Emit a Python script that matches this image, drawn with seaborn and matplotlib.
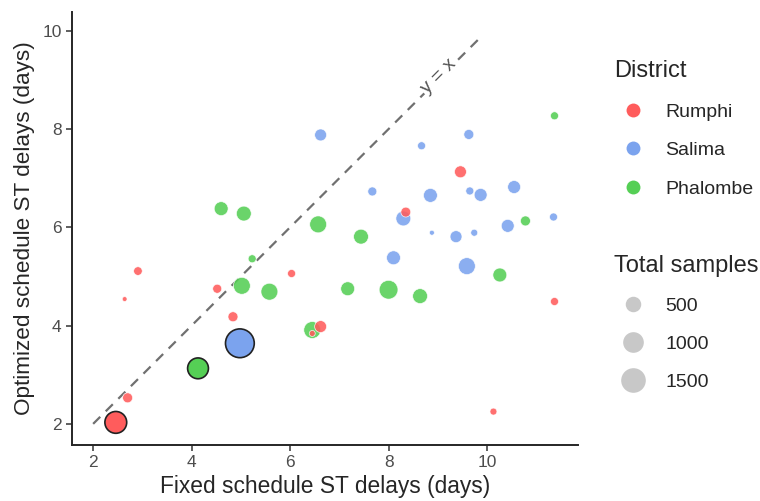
import numpy as np
import pandas as pd
import matplotlib
matplotlib.use('Agg')
import matplotlib.pyplot as plt
import matplotlib.colors as mcolors
import seaborn as sns

sns.set_style('ticks')
plt.rcParams['font.family'] = ['Liberation Sans', 'DejaVu Sans']

# site-level points
rumphi_fixed = [2.91, 2.64, 4.52, 4.84, 2.70, 6.03, 9.46, 8.35, 6.62, 6.45, 11.37, 10.13]
rumphi_opt = [5.11, 4.54, 4.75, 4.18, 2.53, 5.06, 7.13, 6.31, 3.98, 3.84, 4.49, 2.25]
rumphi_total = [100, 10, 115, 155, 155, 80, 255, 150, 255, 28, 80, 50]

salima_fixed = [6.62, 8.67, 9.63, 7.67, 8.30, 8.85, 9.65, 9.87, 10.55, 11.35, 10.42, 8.88, 9.37, 9.74, 8.10, 9.59]
salima_opt = [7.88, 7.66, 7.89, 6.73, 6.18, 6.65, 6.74, 6.66, 6.82, 6.21, 6.03, 5.89, 5.81, 5.89, 5.38, 5.21]
salima_total = [255, 80, 155, 115, 450, 380, 80, 315, 315, 80, 315, 12, 255, 50, 380, 620]

phalombe_fixed = [4.60, 5.06, 6.57, 7.44, 5.23, 11.37, 10.78, 10.26, 5.02, 5.58, 7.17, 8.00, 8.64, 6.45]
phalombe_opt = [6.38, 6.28, 6.06, 5.81, 5.36, 8.27, 6.13, 5.03, 4.81, 4.69, 4.75, 4.73, 4.60, 3.91]
phalombe_total = [380, 450, 620, 450, 80, 80, 155, 380, 620, 620, 380, 800, 450, 620]

# district-level points (outlined)
overall_district = ['Rumphi', 'Salima', 'Phalombe']
overall_fixed = [2.46, 4.98, 4.13]
overall_opt = [2.03, 3.64, 3.13]
overall_total = [1135, 2130, 1020]

districts = ['Rumphi', 'Salima', 'Phalombe']
palette = {'Rumphi': '#FF5C5C', 'Salima': '#7BA3EE', 'Phalombe': '#55CF55'}
legend_sizes = [500, 1000, 1500]

sites = pd.concat([
    pd.DataFrame({'fixed': rumphi_fixed, 'opt': rumphi_opt, 'total': rumphi_total, 'district': 'Rumphi'}),
    pd.DataFrame({'fixed': salima_fixed, 'opt': salima_opt, 'total': salima_total, 'district': 'Salima'}),
    pd.DataFrame({'fixed': phalombe_fixed, 'opt': phalombe_opt, 'total': phalombe_total, 'district': 'Phalombe'}),
], ignore_index=True)
sites = sites.sort_values('total', ascending=False)
overall = pd.DataFrame({'fixed': overall_fixed, 'opt': overall_opt,
                        'total': overall_total, 'district': overall_district})

# point diameter grows with sqrt(total), area scale for seaborn
off = 5.43
size_norm = mcolors.FuncNorm((lambda v: (np.sqrt(v) + off) ** 2,
                              lambda a: (np.sqrt(a) - off) ** 2), vmin=10, vmax=2130)
size_range = (11.9, 429)

fig = plt.figure(figsize=(7.6, 5.01), dpi=100)
ax = fig.add_axes([0.0947, 0.1118, 0.666, 0.865])

ax.plot([2, 9.91], [2, 9.91], color='#707070', lw=1.6, ls=(0, (4.5, 3.5)), zorder=1)
ax.text(9.02, 9.07, 'y = x', rotation=45, ha='center', va='center', fontsize=14,
        color='#555555', rotation_mode='anchor',
        bbox=dict(facecolor='white', edgecolor='none', pad=1.0), zorder=1.5)

sns.scatterplot(data=sites, x='fixed', y='opt', hue='district', size='total',
                hue_order=districts, palette=palette, sizes=size_range,
                size_norm=size_norm, alpha=0.88, edgecolor='white', linewidth=0.5,
                legend=False, ax=ax, zorder=3)
sns.scatterplot(data=overall, x='fixed', y='opt', hue='district', size='total',
                hue_order=districts, palette=palette, sizes=size_range,
                size_norm=size_norm, edgecolor='#222222', linewidth=1.2,
                legend=False, ax=ax, zorder=4)

ax.set_xlim(1.57, 11.85)
ax.set_ylim(1.57, 10.39)
ax.set_xticks([2, 4, 6, 8, 10])
ax.set_yticks([2, 4, 6, 8, 10])
ax.set_xlabel('Fixed schedule ST delays (days)', fontsize=16.4, labelpad=3)
ax.set_ylabel('Optimized schedule ST delays (days)', fontsize=16.2, labelpad=5)
ax.tick_params(labelsize=12.5, labelcolor='#4D4D4D', color='#333333', length=4, width=1.1)
for s in ['left', 'bottom']:
    ax.spines[s].set_linewidth(1.4)
sns.despine(ax=ax)

# legends
hue_handles = [plt.Line2D([], [], marker='o', ls='', markersize=10,
                          markerfacecolor=palette[d], markeredgecolor='none')
               for d in districts]
leg1 = fig.legend(hue_handles, districts, title='District', loc='upper left',
                  bbox_to_anchor=(0.795, 0.899), frameon=False, fontsize=14,
                  title_fontsize=17, alignment='left', labelspacing=1.07,
                  handlelength=2.0, handletextpad=0.63, borderpad=0)

size_vals = size_range[0] + (size_range[1] - size_range[0]) * size_norm(np.array(legend_sizes, dtype=float))
size_handles = [plt.Line2D([], [], marker='o', ls='', markersize=np.sqrt(s),
                           markerfacecolor='#C8C8C8', markeredgecolor='none')
                for s in size_vals]
leg2 = fig.legend(size_handles, [str(v) for v in legend_sizes], title='Total samples',
                  loc='upper left', bbox_to_anchor=(0.795, 0.511), frameon=False,
                  fontsize=14, title_fontsize=17, alignment='left', labelspacing=1.05,
                  handlelength=2.0, handletextpad=0.63, borderpad=0)

fig.savefig('out.png', dpi=100)
